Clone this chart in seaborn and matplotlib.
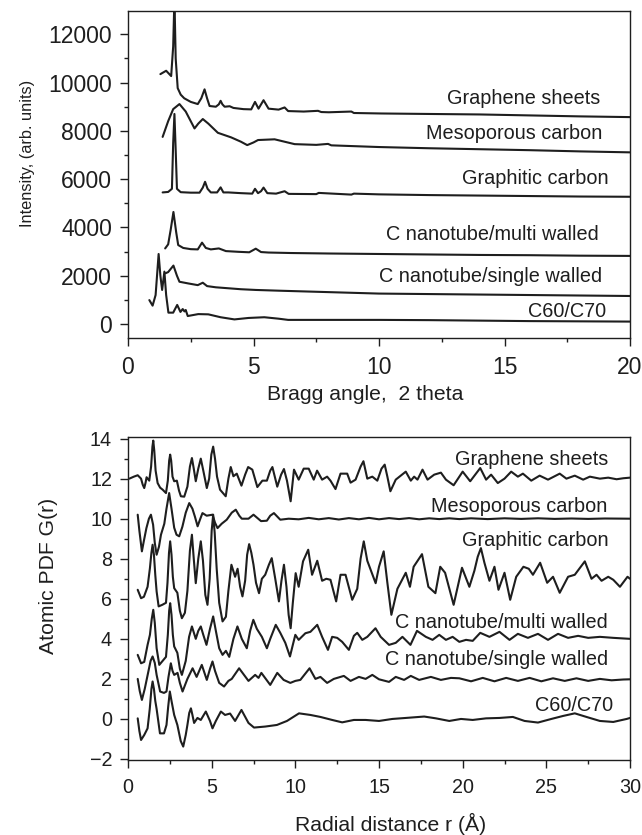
import matplotlib
matplotlib.use("Agg")
import matplotlib.pyplot as plt
from matplotlib.ticker import MultipleLocator
import seaborn as sns
import pandas as pd

# ---------------- DATA ----------------
SAMPLE_LABELS = ["Graphene sheets", "Mesoporous carbon", "Graphitic carbon",
                 "C nanotube/multi walled", "C nanotube/single walled", "C60/C70"]

XRD_GRAPHENE = [(1.29, 10350), (1.52, 10490), (1.72, 10270), (1.80, 11500), (1.85, 13500),
                (1.90, 11000), (1.98, 9770), (2.10, 9500), (2.24, 9350), (2.5, 9200), (2.78, 9110),
                (2.92, 9350), (3.05, 9720), (3.15, 9350), (3.25, 9030), (3.5, 9000), (3.62, 9100),
                (3.69, 9245), (3.76, 9100), (3.85, 9000), (4.05, 9020), (4.2, 8950), (4.6, 8900),
                (4.91, 8890), (5.06, 9200), (5.2, 8920), (5.40, 9270), (5.6, 8920), (6.0, 8880),
                (6.24, 8970), (6.38, 8820), (7.0, 8800), (7.57, 8830), (7.7, 8780), (8.0, 8770),
                (8.9, 8800), (9.0, 8740), (10.1, 8720), (12, 8700), (14, 8680), (16, 8640),
                (18, 8600), (20, 8570)]
XRD_MESO = [(1.38, 7750), (1.6, 8400), (1.8, 8900), (2.05, 9110), (2.3, 8800), (2.65, 8100),
            (2.8, 8300), (2.98, 8490), (3.2, 8300), (3.58, 7920), (4.11, 7730), (4.5, 7550),
            (4.75, 7410), (5.0, 7520), (5.18, 7620), (5.84, 7650), (6.64, 7450), (7.5, 7420),
            (7.97, 7460), (8.1, 7400), (10.0, 7330), (12, 7280), (14, 7240), (16, 7200),
            (18, 7150), (20, 7110)]
XRD_GRAPHITIC = [(1.38, 5450), (1.6, 5470), (1.75, 5600), (1.80, 7500), (1.85, 8700), (1.90, 7200),
                 (1.95, 5600), (2.1, 5460), (2.5, 5440), (2.85, 5440), (2.98, 5650), (3.07, 5890),
                 (3.17, 5600), (3.3, 5450), (3.55, 5450), (3.69, 5660), (3.8, 5450), (4.0, 5450),
                 (4.5, 5420), (4.95, 5400), (5.06, 5600), (5.18, 5420), (5.3, 5500), (5.40, 5650),
                 (5.55, 5420), (5.9, 5400), (6.24, 5500), (6.4, 5390), (7.5, 5380), (7.6, 5430),
                 (8.9, 5360), (9.0, 5400), (10, 5370), (12, 5340), (14, 5320), (16, 5300),
                 (18, 5280), (20, 5270)]
XRD_MULTI = [(1.48, 3130), (1.6, 3300), (1.7, 3900), (1.81, 4640), (1.92, 3800), (2.0, 3270),
             (2.2, 3150), (2.5, 3100), (2.78, 3090), (2.95, 3370), (3.1, 3150), (3.3, 3090),
             (3.62, 3130), (3.9, 3020), (4.4, 2990), (4.83, 2970), (5.09, 3120), (5.3, 2980),
             (5.6, 2960), (6.5, 2940), (8, 2920), (10, 2900), (12, 2880), (14, 2860),
             (16, 2850), (18, 2830), (20, 2820)]
XRD_SINGLE = [(1.49, 2100), (1.6, 2150), (1.81, 2420), (1.95, 2000), (2.05, 1750), (2.4, 1680),
              (2.78, 1610), (2.98, 1710), (3.15, 1570), (3.5, 1520), (4.5, 1440), (5.1, 1410),
              (6, 1380), (8, 1320), (10, 1260), (12, 1240), (14, 1220), (16, 1200), (18, 1180),
              (20, 1160)]
XRD_C60 = [(0.85, 990), (0.98, 760), (1.1, 1200), (1.22, 2900), (1.29, 2000), (1.36, 1410),
           (1.45, 2170), (1.52, 1200), (1.61, 470), (1.8, 470), (1.96, 790), (2.09, 500),
           (2.18, 620), (2.25, 520), (2.3, 580), (2.38, 330), (2.8, 410), (3.2, 400),
           (3.69, 280), (4.24, 190), (4.8, 250), (5.43, 280), (6.0, 220), (6.38, 170),
           (8, 170), (10, 170), (12, 160), (14, 140), (16, 120), (18, 110), (20, 100)]

PDF_GRAPHENE = [(0.08, 12.0), (0.35, 12.1), (0.58, 12.17), (0.78, 12.0), (0.88, 11.7), (0.97, 11.53),
                (1.05, 11.8), (1.11, 12.07), (1.27, 11.9), (1.38, 12.6), (1.46, 13.6), (1.51, 13.9),
                (1.57, 13.4), (1.65, 12.4), (1.77, 11.78), (1.92, 11.55), (2.07, 11.45), (2.27, 11.28),
                (2.38, 11.9), (2.46, 12.9), (2.52, 13.2), (2.58, 12.9), (2.66, 12.1), (2.76, 11.87),
                (2.92, 11.9), (3.05, 11.4), (3.16, 11.12), (3.36, 11.1), (3.55, 11.6), (3.7, 12.6),
                (3.82, 13.03), (3.93, 12.5), (4.05, 11.87), (4.2, 12.5), (4.35, 13.0), (4.5, 12.4),
                (4.71, 11.53), (4.85, 12.0), (4.98, 13.2), (5.09, 13.6), (5.2, 13.0), (5.32, 12.1),
                (5.5, 11.45), (5.84, 11.12), (6.0, 12.0), (6.14, 12.58), (6.3, 12.12),
                (6.5, 12.25), (6.78, 11.65), (7.0, 12.2), (7.18, 12.58), (7.43, 12.45), (7.73, 11.58),
                (8.03, 11.9), (8.3, 11.9), (8.5, 12.4), (8.63, 12.58), (8.92, 11.6), (9.15, 12.2),
                (9.32, 12.48), (9.5, 11.9), (9.72, 10.87), (9.92, 12.45),
                (10.2, 11.95), (10.5, 12.5), (10.8, 12.5), (11.1, 11.95), (11.3, 12.4),
                (11.6, 11.95), (11.9, 12.1), (12.1, 11.9), (12.4, 11.48), (12.7, 12.25), (13.1, 12.25),
                (13.3, 11.8), (13.6, 11.95), (13.9, 12.6), (14.07, 12.87), (14.3, 12.0), (14.6, 12.1),
                (14.9, 11.9), (15.15, 12.5), (15.34, 12.7), (15.5, 12.1), (15.68, 11.37), (16.0, 11.95),
                (16.6, 12.35), (16.9, 11.9), (17.1, 12.1), (17.3, 11.95), (17.6, 12.45), (17.9, 11.95),
                (18.3, 12.2), (18.7, 12.3), (19.0, 11.95), (19.46, 11.67), (20.0, 12.35),
                (20.45, 11.87), (21.05, 12.53), (21.4, 11.95), (21.7, 12.2), (22.1, 11.78),
                (22.5, 12.0), (22.9, 12.35), (23.3, 12.1), (23.6, 12.25), (24.1, 11.9), (24.6, 12.15),
                (25.1, 11.95), (25.8, 12.25), (26.2, 12.0), (26.7, 12.15), (27.2, 11.95), (27.6, 12.1),
                (28.2, 12.0), (28.7, 12.05), (29.2, 11.97), (29.6, 12.02), (30.0, 12.05)]
PDF_MESO = [(0.58, 10.2), (0.68, 9.4), (0.83, 8.37), (0.95, 8.9), (1.1, 9.53), (1.25, 10.0), (1.37, 10.2),
            (1.5, 9.7), (1.6, 8.8), (1.71, 8.2), (1.85, 8.6), (1.97, 9.2), (2.17, 9.75), (2.3, 10.5),
            (2.46, 11.28), (2.6, 10.5), (2.76, 9.55), (2.9, 9.2), (3.06, 9.12), (3.25, 9.6),
            (3.45, 10.3), (3.66, 10.78), (3.85, 10.5), (4.0, 10.1), (4.16, 9.62), (4.3, 9.95),
            (4.45, 10.28), (4.7, 10.15), (5.05, 10.2), (5.2, 9.8), (5.35, 9.53), (5.6, 9.75),
            (5.9, 9.95), (6.2, 10.3), (6.44, 10.45), (6.65, 10.15), (6.8, 10.0), (7.2, 10.0),
            (7.5, 10.2), (7.95, 9.88), (8.3, 9.9), (8.5, 10.15), (8.72, 10.28), (9.1, 9.95),
            (9.6, 10.0), (10.2, 9.97), (10.8, 10.04), (11.4, 9.97), (12.0, 10.03),
            (12.6, 9.96), (13.2, 10.03), (13.8, 9.97), (14.4, 10.04), (15.0, 9.97), (15.6, 10.03),
            (16.2, 9.98), (16.8, 10.03), (17.4, 9.97), (18.0, 10.02), (18.6, 9.98), (19.2, 10.02),
            (19.8, 9.98), (20.5, 10.02), (21.5, 9.98), (22.5, 10.02), (23.5, 9.99), (24.5, 10.02),
            (25.5, 9.99), (26.5, 10.01), (27.5, 9.99), (28.5, 10.01), (30.0, 10.0)]
PDF_GRAPHITIC = [(0.58, 6.45), (0.78, 6.03), (0.95, 6.1), (1.17, 6.6), (1.31, 7.53), (1.4, 8.3),
                 (1.47, 8.7), (1.55, 8.2), (1.63, 7.2), (1.71, 6.37), (1.83, 5.62), (2.05, 5.7),
                 (2.27, 5.8), (2.36, 6.8), (2.45, 8.3), (2.52, 8.87), (2.6, 8.2), (2.68, 7.1),
                 (2.76, 6.53), (2.95, 6.3), (3.1, 5.4), (3.22, 5.03), (3.4, 5.3), (3.55, 6.4),
                 (3.7, 8.4), (3.82, 9.2), (3.93, 8.0), (4.05, 6.78), (4.2, 8.0), (4.35, 8.87),
                 (4.48, 7.9), (4.62, 6.2), (4.75, 5.7), (4.88, 7.0), (5.0, 9.4), (5.09, 10.2),
                 (5.18, 9.3), (5.3, 7.5), (5.45, 5.8), (5.65, 4.87), (5.85, 5.1), (6.0, 6.4),
                 (6.18, 7.7), (6.4, 7.1), (6.55, 7.5), (6.7, 6.6), (6.84, 6.12), (7.0, 6.9),
                 (7.12, 8.2), (7.24, 8.73), (7.37, 8.3), (7.5, 7.7), (7.65, 6.8), (7.83, 6.28),
                 (8.0, 7.0), (8.2, 7.2), (8.42, 7.7), (8.59, 8.03), (8.8, 7.0), (9.02, 5.87),
                 (9.17, 6.9), (9.32, 7.7), (9.47, 6.6), (9.6, 5.2), (9.72, 4.53), (9.85, 5.8),
                 (10.02, 7.28), (10.2, 6.6), (10.46, 7.87), (10.77, 8.45),
                 (11.0, 7.2), (11.31, 7.9), (11.6, 6.9), (11.85, 7.0), (12.1, 6.95), (12.44, 5.87),
                 (12.7, 7.2), (13.0, 7.2), (13.4, 5.95), (13.7, 6.5), (13.9, 8.0), (14.09, 8.87),
                 (14.3, 7.9), (14.8, 6.78), (15.0, 7.6), (15.28, 8.37), (15.5, 6.8), (15.74, 5.2),
                 (16.1, 6.5), (16.6, 7.3), (16.85, 6.6), (17.07, 7.6), (17.57, 8.23), (17.95, 6.6),
                 (18.37, 6.28), (18.66, 7.6), (18.95, 7.3), (19.46, 5.7), (19.96, 7.55), (20.4, 6.6),
                 (20.7, 7.4), (20.9, 8.1), (21.09, 8.53), (21.3, 7.8), (21.6, 6.9), (21.9, 7.6),
                 (22.14, 6.45), (22.5, 7.3), (22.84, 5.95), (23.2, 7.1), (23.63, 7.6),
                 (23.95, 7.5), (24.2, 7.2), (24.63, 7.8), (25.05, 6.8), (25.4, 7.1), (25.8, 6.3),
                 (26.3, 7.1), (26.7, 7.2), (27.3, 7.87), (27.7, 7.0), (28.0, 7.2), (28.3, 6.9),
                 (28.7, 7.1), (29.0, 6.95), (29.4, 6.6), (29.85, 7.1), (30.0, 7.0)]
PDF_MULTI = [(0.58, 3.2), (0.78, 2.78), (0.97, 2.85), (1.17, 3.7), (1.31, 4.2), (1.42, 5.0), (1.51, 5.45),
             (1.6, 4.8), (1.71, 3.53), (1.87, 2.7), (2.07, 2.9), (2.27, 3.1), (2.38, 4.2), (2.46, 5.4),
             (2.52, 5.78), (2.6, 5.2), (2.68, 4.2), (2.76, 3.62), (2.95, 3.3), (3.1, 2.5), (3.22, 2.2),
             (3.45, 2.9), (3.65, 4.1), (3.82, 4.62), (4.05, 4.0), (4.2, 4.4), (4.35, 4.62), (4.5, 4.2),
             (4.69, 3.7), (4.9, 4.5), (5.09, 5.12), (5.25, 4.4), (5.45, 3.53), (5.65, 3.2),
             (5.85, 3.4), (6.05, 3.1), (6.3, 4.0), (6.54, 4.62), (6.8, 4.0), (7.1, 3.53), (7.3, 4.4),
             (7.49, 4.95), (7.7, 4.5), (8.0, 4.1), (8.3, 3.53), (8.5, 4.0), (8.83, 4.7), (9.1, 4.3),
             (9.4, 3.8), (9.68, 3.12), (9.85, 3.7), (10.0, 4.2), (10.2, 3.95), (10.6, 4.28),
             (10.9, 4.35), (11.31, 4.7), (11.6, 4.1), (11.95, 3.45), (12.2, 4.1), (12.5, 4.05),
             (12.8, 3.85), (13.2, 3.45), (13.5, 4.15), (13.7, 4.3), (14.0, 3.95), (14.3, 4.1),
             (14.79, 4.53), (15.1, 4.1), (15.6, 3.7), (16.0, 3.8), (16.4, 4.1), (16.88, 3.7),
             (17.27, 4.4), (17.8, 4.1), (18.2, 3.95), (18.6, 4.2), (19.0, 3.95), (19.4, 4.1),
             (19.8, 3.85), (20.2, 3.95), (20.6, 3.9), (21.05, 4.3), (21.6, 4.1), (22.2, 4.35),
             (22.8, 3.95), (23.3, 4.25), (23.9, 4.05), (24.5, 4.25), (25.1, 3.95), (25.7, 4.25),
             (26.3, 4.05), (26.9, 4.15), (27.5, 4.05), (28.2, 4.1), (29.0, 4.05), (30.0, 4.0)]
PDF_SINGLE = [(0.58, 2.0), (0.7, 1.4), (0.83, 0.95), (1.0, 1.5), (1.2, 2.3), (1.35, 2.9), (1.47, 3.12),
              (1.6, 2.8), (1.71, 2.2), (1.92, 1.37), (2.15, 1.3), (2.3, 1.37), (2.42, 2.1),
              (2.56, 2.78), (2.66, 2.4), (2.76, 2.2), (2.96, 2.3), (3.1, 1.8), (3.26, 1.37),
              (3.55, 2.0), (3.86, 2.53), (4.1, 2.1), (4.41, 2.7), (4.71, 1.95), (4.9, 2.5),
              (5.05, 2.87), (5.2, 2.4), (5.45, 1.8), (5.74, 1.62), (6.0, 1.9), (6.2, 2.0),
              (6.64, 2.53), (7.2, 1.9), (7.6, 2.2), (7.8, 2.05), (7.97, 2.3), (8.5, 1.7),
              (8.92, 2.3), (9.3, 1.95), (9.7, 1.8), (10.0, 1.9), (10.3, 1.95), (10.85, 2.53),
              (11.2, 2.0), (11.5, 2.1), (11.9, 1.8), (12.3, 2.0), (12.9, 2.15), (13.3, 1.9),
              (13.8, 2.1), (14.2, 2.0), (14.6, 2.2), (15.0, 1.98), (15.6, 1.85), (16.0, 2.1),
              (16.5, 1.95), (16.9, 2.15), (17.4, 1.95), (18.1, 2.1), (18.7, 1.95), (19.3, 2.05),
              (19.8, 2.03), (20.5, 1.88), (21.2, 2.05), (21.9, 1.88), (22.6, 2.05), (23.3, 1.9),
              (24.0, 2.05), (24.7, 1.88), (25.4, 2.03), (26.1, 1.9), (26.8, 2.03), (27.5, 1.9),
              (28.2, 2.0), (28.9, 1.93), (29.6, 1.97), (30.0, 1.98)]
PDF_C60 = [(0.58, 0.03), (0.68, -0.6), (0.78, -1.05), (0.97, -0.8), (1.17, -0.47), (1.3, 0.5),
           (1.4, 1.5), (1.47, 1.87), (1.55, 1.5), (1.63, 0.9), (1.71, 0.5), (1.91, -0.72),
           (2.15, -0.72), (2.3, -0.3), (2.4, 0.6), (2.5, 1.37), (2.6, 0.9), (2.76, 0.2),
           (2.95, -0.3), (3.15, -1.1), (3.3, -1.38), (3.45, -0.8), (3.55, -0.3), (3.66, 0.3),
           (3.76, 0.53), (3.85, 0.2), (3.95, -0.2), (4.15, 0.05), (4.35, -0.05),
           (4.65, 0.37), (4.9, -0.1), (5.05, -0.47), (5.25, -0.1), (5.55, 0.37), (5.8, 0.2),
           (6.1, 0.27), (6.4, -0.1), (6.78, 0.45), (7.2, -0.2), (7.53, -0.43), (8.2, -0.38),
           (8.9, -0.3), (9.5, -0.1), (10.22, 0.28), (10.9, 0.2), (11.5, 0.1), (12.2, -0.05),
           (12.8, -0.17), (13.5, -0.05), (14.2, -0.05), (15.0, -0.1), (15.8, 0.0), (16.6, 0.05),
           (17.7, 0.12), (18.4, 0.03), (19.2, -0.1), (19.9, 0.0), (20.6, -0.05), (21.4, 0.03),
           (22.2, 0.05), (23.0, 0.1), (23.7, -0.1), (24.5, -0.18), (25.3, 0.0), (26.0, 0.15),
           (26.7, 0.28), (27.4, 0.1), (28.2, -0.1), (29.0, -0.15), (29.8, 0.0), (30.0, 0.05)]

# label anchor positions (right-aligned, baseline)
XRD_LABEL_POS = [(18.83, 9095), (18.9, 7645), (19.15, 5780), (18.75, 3480), (18.9, 1750), (19.03, 300)]
PDF_LABEL_POS = [(28.7, 12.7), (28.65, 10.32), (28.7, 8.62), (28.7, 4.53), (28.7, 2.7), (28.97, 0.42)]

XRD_YTICKS = [0, 2000, 4000, 6000, 8000, 10000, 12000]
XRD_XTICKS = [0, 5, 10, 15, 20]
PDF_YTICKS = [-2, 0, 2, 4, 6, 8, 10, 12, 14]
PDF_XTICKS = [0, 5, 10, 15, 20, 25, 30]

# ---------------- STYLE ----------------
sns.set_style("ticks")
plt.rcParams["font.family"] = ["Liberation Sans", "DejaVu Sans"]
INK = "#1e1e1e"
plt.rcParams.update({
    "axes.edgecolor": INK, "axes.linewidth": 1.0,
    "xtick.color": INK, "ytick.color": INK,
    "xtick.direction": "out", "ytick.direction": "out",
    "xtick.major.size": 6, "ytick.major.size": 6,
    "xtick.minor.size": 3, "ytick.minor.size": 3,
    "xtick.major.width": 1.0, "ytick.major.width": 1.0,
    "xtick.minor.width": 1.0, "ytick.minor.width": 1.0,
    "xtick.major.pad": 7, "ytick.major.pad": 5.5,
    "text.color": INK, "axes.labelcolor": INK,
})

fig = plt.figure(figsize=(6.42, 8.35), dpi=100)
W, H = 642, 835
ax1 = fig.add_axes([128 / W, 1 - 338 / H, (630 - 128) / W, (338 - 11) / H])
ax2 = fig.add_axes([128 / W, 1 - 760 / H, (630 - 128) / W, (760 - 437) / H])


def draw(ax, series, labels, positions, fs):
    for pts, lab, (lx, ly) in zip(series, labels, positions):
        df = pd.DataFrame(pts, columns=["x", "y"])
        sns.lineplot(data=df, x="x", y="y", ax=ax, color=INK, lw=1.5,
                     estimator=None, sort=False, legend=False,
                     solid_joinstyle="round", solid_capstyle="round")
        ax.text(lx, ly, lab, ha="right", va="baseline", fontsize=fs, color=INK)


draw(ax1, [XRD_GRAPHENE, XRD_MESO, XRD_GRAPHITIC, XRD_MULTI, XRD_SINGLE, XRD_C60],
     SAMPLE_LABELS, XRD_LABEL_POS, 14.3)
draw(ax2, [PDF_GRAPHENE, PDF_MESO, PDF_GRAPHITIC, PDF_MULTI, PDF_SINGLE, PDF_C60],
     SAMPLE_LABELS, PDF_LABEL_POS, 14.3)

ax1.set_xlim(0, 20)
ax1.set_ylim(-580, 12965)
ax1.set_xticks(XRD_XTICKS)
ax1.set_yticks(XRD_YTICKS)
ax1.xaxis.set_minor_locator(MultipleLocator(2.5))
ax1.yaxis.set_minor_locator(MultipleLocator(1000))
ax1.tick_params(labelsize=16.5)
ax1.set_xlabel("Bragg angle,  2 theta", fontsize=15.2)
ax1.set_ylabel("Intensity, (arb. units)", fontsize=11.8)
ax1.xaxis.set_label_coords(0.473, -0.144)
ax1.yaxis.set_label_coords(-0.185, 0.565)

ax2.set_xlim(0, 30)
ax2.set_ylim(-2.05, 14.08)
ax2.set_xticks(PDF_XTICKS)
ax2.set_yticks(PDF_YTICKS)
ax2.xaxis.set_minor_locator(MultipleLocator(2.5))
ax2.yaxis.set_minor_locator(MultipleLocator(1))
ax2.tick_params(labelsize=14.2)
ax2.set_xlabel("Radial distance r (Å)", fontsize=15.2)
ax2.set_ylabel("Atomic PDF G(r)", fontsize=15.2)
ax2.xaxis.set_label_coords(0.524, -0.165)
ax2.yaxis.set_label_coords(-0.139, 0.57)

for ax in (ax1, ax2):
    for s in ax.spines.values():
        s.set_visible(True)

fig.savefig("out.png", dpi=100)
